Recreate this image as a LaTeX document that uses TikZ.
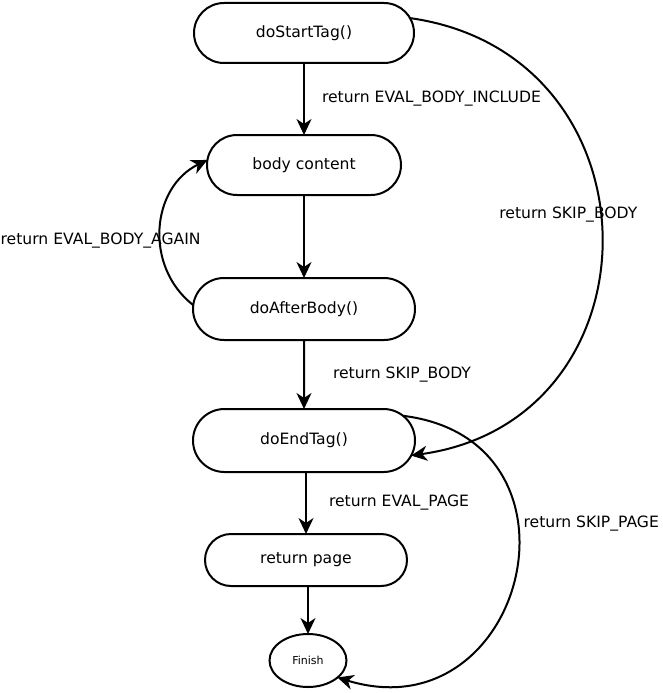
\documentclass[tikz,border=0pt]{standalone}
\usepackage{fontspec}
\setmainfont{DejaVu Sans}
\usetikzlibrary{arrows.meta,
  positioning,
  shapes.geometric,
  shapes.misc
}

\begin{document}
\begin{tikzpicture}[x=1pt, y=1pt, line width=2pt, >={Stealth[length=16pt, width=15pt, inset=5pt]}, every node/.style={font=\fontsize{15.6}{18}\selectfont}]

        % Stile
        \tikzstyle{state}=[draw, rounded rectangle, minimum height=60pt, inner sep=0pt, outer sep=0pt]
        \tikzstyle{final}=[draw, ellipse, minimum width=77pt, minimum height=53pt, inner sep=0pt, outer sep=0pt, font=\fontsize{11}{12}\selectfont]
        \tikzstyle{lbl}=[inner sep=0pt]

        \useasboundingbox (0,0) rectangle (662,-693);

        % Zustaende
        \node[state, minimum width=220pt] (start) at (304,-33) {doStartTag()};
        \node[state, minimum width=194pt, below=72pt of start] (body) {body content};
        \node[state, minimum width=222pt, minimum height=62pt, below=83pt of body] (after) {doAfterBody()};
        \node[state, minimum width=222pt, minimum height=63pt, below=69pt of after] (endtag) {doEndTag()};
        \node[state, minimum width=202pt, minimum height=52pt, below=62pt of endtag, xshift=2pt] (page) {return page};
        \node[final, below=48pt of page, xshift=2pt] (finish) {Finish};

        % Gerade Uebergaenge
        \draw[->] (start) -- node[lbl, right=17pt] {return EVAL\_BODY\_INCLUDE} (body);
        \draw[->] (body) -- (after);
        \draw[->] (after) -- node[lbl, right=28pt] {return SKIP\_BODY} (endtag);
        \draw[->] (endtag.south -| page.north) -- node[lbl, right=22pt] {return EVAL\_PAGE} (page.north);
        \draw[->] (page.south -| finish.north) -- (finish.north);

        % Boegen
        \draw[->] (start.8) to[out=-8, in=8, looseness=1.5] node[lbl, pos=0.5, xshift=-33pt, yshift=22pt] {return SKIP\_BODY} (endtag.-8);
        \draw[->] (after.178) to[out=142, in=206, looseness=1.1] node[lbl, pos=0.5, xshift=-60pt, yshift=-12pt] {return EVAL\_BODY\_AGAIN} (body.177);
        \draw[->] (endtag.14) to[out=-7, in=-17, looseness=1.87] node[lbl, pos=0.5, xshift=77pt, yshift=54pt] {return SKIP\_PAGE} (finish.-30);
        \end{tikzpicture}
\end{document}
